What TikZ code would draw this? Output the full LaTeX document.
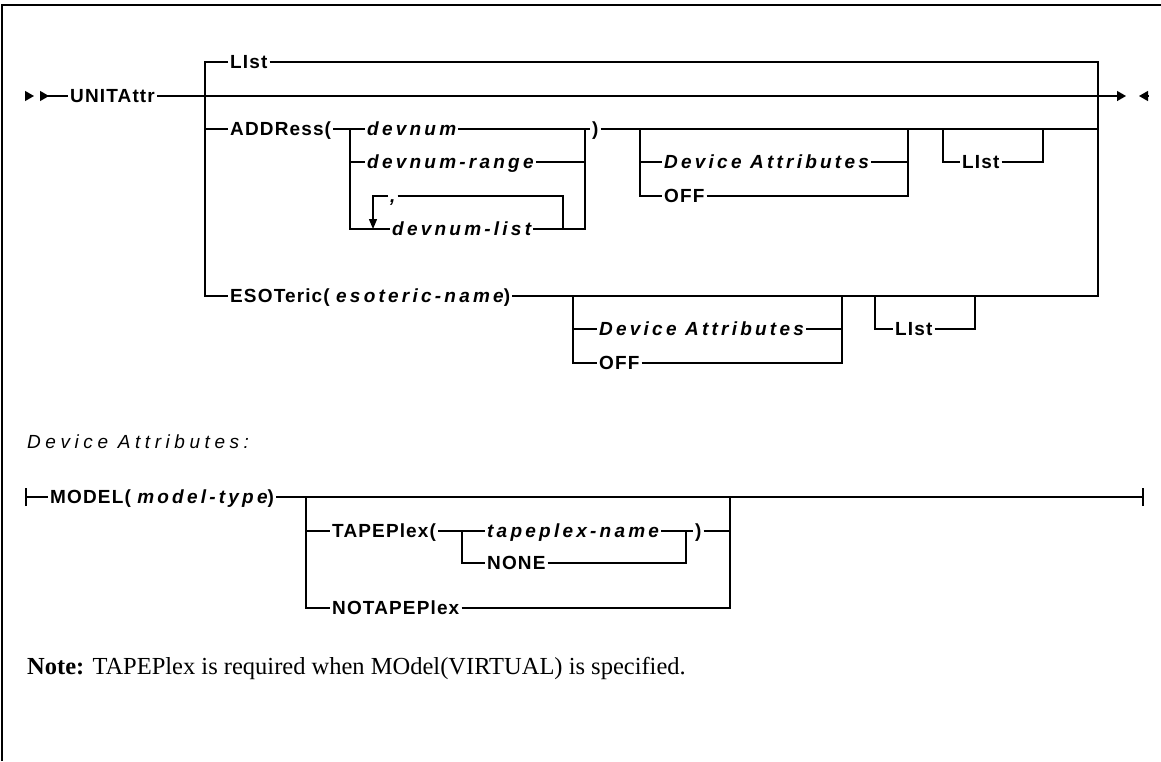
\documentclass[tikz,border=0pt]{standalone}
\usepackage{fontspec}
\setmainfont{Liberation Serif}
\setsansfont{Liberation Sans}
\newfontfamily\railkw[LetterSpace=6]{Liberation Sans}
\newfontfamily\railvar[LetterSpace=17]{Liberation Sans}
\newfontfamily\raillbl[LetterSpace=24]{Liberation Sans}
\usetikzlibrary{arrows.meta, positioning}

\begin{document}
\begin{tikzpicture}[x=1pt, y=-1pt,
    rail/.style={line width=1.3pt, black},
    kw/.style={font=\railkw\bfseries\fontsize{19}{22}\selectfont, anchor=west,
      inner xsep=2pt, inner ysep=0pt, text height=13.6pt, text depth=0pt},
    var/.style={kw, font=\railvar\bfseries\itshape\fontsize{19}{22}\selectfont},
    tip/.style={-{Triangle[length=9pt, width=10pt]}},
    looptip/.style={-{Triangle[length=10pt, width=8pt]}}]
  \useasboundingbox (0,0) rectangle (1161,761);
  \draw[line width=2pt] (2,761) -- (2,5) -- (1161,5);

  % UNITAttr
  \coordinate (in1) at (25,96);
  \coordinate (in2) at (40,96);
  \coordinate (out1) at (1126,96);
  \coordinate (out2) at (1148,96);
  \node[kw] (unitattr) at (68,96) {UNITAttr};
  \draw[rail] (in2) -- (unitattr.west);
  \draw[rail, tip] (in1) -- +(9,0);
  \draw[rail, tip] (in2) -- +(9,0);
  \draw[rail, tip] (unitattr.east) -- (out1);
  \draw[rail, tip] (out2) -- +(-9,0);

  \node[kw] (list1) at (228,62) {LIst};
  \node[kw] (addr) at (228,129) {ADDRess(};
  \node[kw] (esot) at (228,296) {ESOTeric( {\railvar\itshape esoteric-name})};
  \coordinate (bl) at (205,62);
  \coordinate (br) at (1098,62);
  \draw[rail] (list1.west) -- (bl) |- (esot.west);
  \draw[rail] (list1.east) -- (br) |- (esot.east);
  \draw[rail] (bl |- addr.west) -- (addr.west);

  % ADDRess
  \node[var] (devnum) at (365,129) {devnum};
  \node[var] (devrange) at (365,162) {devnum-range};
  \node[var] (comma) at (388,196) {,};
  \node[var] (devlist) at (390,229) {devnum-list};
  \node[kw] (rpar1) at (590,129) {)};
  \coordinate (al) at (350,129);
  \coordinate (ar) at (585,129);
  \coordinate (loopl) at (373,229);
  \coordinate (loopr) at (563,229);
  \draw[rail] (addr.east) -- (devnum.west);
  \draw[rail] (al) |- (devrange.west);
  \draw[rail] (al) |- (devlist.west);
  \draw[rail] (devnum.east) -- (ar) -- (rpar1.west);
  \draw[rail] (devrange.east) -| (ar);
  \draw[rail] (devlist.east) -| (ar);
  \draw[rail, looptip] (comma.west) -| (loopl);
  \draw[rail] (comma.east) -| (loopr);
  \draw[rail] (rpar1.east) -- (br |- rpar1.east);

  \node[var] (attr1) at (662,162) {Device Attributes};
  \node[kw] (off1) at (662,196) {OFF};
  \node[kw] (list2) at (960,162) {LIst};
  \coordinate (dl1) at (640,129);
  \coordinate (dr1) at (908,129);
  \coordinate (ll1) at (943,129);
  \coordinate (lr1) at (1043,129);
  \draw[rail] (dl1) |- (attr1.west);
  \draw[rail] (dl1) |- (off1.west);
  \draw[rail] (attr1.east) -| (dr1);
  \draw[rail] (off1.east) -| (dr1);
  \draw[rail] (ll1) |- (list2.west);
  \draw[rail] (list2.east) -| (lr1);

  % ESOTeric
  \node[var] (attr2) at (597,329) {Device Attributes};
  \node[kw] (off2) at (597,363) {OFF};
  \node[kw] (list3) at (893,329) {LIst};
  \coordinate (dl2) at (573,296);
  \coordinate (dr2) at (842,296);
  \coordinate (ll2) at (875,296);
  \coordinate (lr2) at (975,296);
  \draw[rail] (dl2) |- (attr2.west);
  \draw[rail] (dl2) |- (off2.west);
  \draw[rail] (attr2.east) -| (dr2);
  \draw[rail] (off2.east) -| (dr2);
  \draw[rail] (ll2) |- (list3.west);
  \draw[rail] (list3.east) -| (lr2);

  % Device Attributes fragment
  \node[kw, font=\raillbl\itshape\fontsize{19}{22}\selectfont, inner xsep=0pt] (attrlbl) at (27,442) {Device Attributes:};
  \coordinate (m0) at (26,497);
  \coordinate (m1) at (1143,497);
  \node[kw] (model) at (48,497) {MODEL( {\railvar\itshape model-type})};
  \draw[rail] (m0) -- (model.west);
  \draw[rail] (model.east) -- (m1);
  \draw[rail] ([yshift=-9pt]m0) -- ([yshift=9pt]m0);
  \draw[rail] ([yshift=-9pt]m1) -- ([yshift=9pt]m1);

  \node[kw] (tplex) at (330,531) {TAPEPlex(};
  \node[var] (tpname) at (485,531) {tapeplex-name};
  \node[kw] (none) at (485,563) {NONE};
  \node[kw] (rpar2) at (693,531) {)};
  \node[kw] (notp) at (330,608) {NOTAPEPlex};
  \coordinate (tl) at (306,497);
  \coordinate (tr) at (730,497);
  \coordinate (nl) at (462,531);
  \coordinate (nr) at (686,531);
  \draw[rail] (tl) |- (tplex.west);
  \draw[rail] (tl) |- (notp.west);
  \draw[rail] (tplex.east) -- (tpname.west);
  \draw[rail] (nl) |- (none.west);
  \draw[rail] (tpname.east) -- (nr) -- (rpar2.west);
  \draw[rail] (none.east) -| (nr);
  \draw[rail] (rpar2.east) -| (tr);
  \draw[rail] (notp.east) -| (tr);

  \node[anchor=west, inner sep=0pt, font=\fontsize{24.5}{28}\selectfont] (note) at (27,668)
    {\textbf{Note:} TAPEPlex is required when MOdel(VIRTUAL) is specified.};
\end{tikzpicture}
\end{document}
